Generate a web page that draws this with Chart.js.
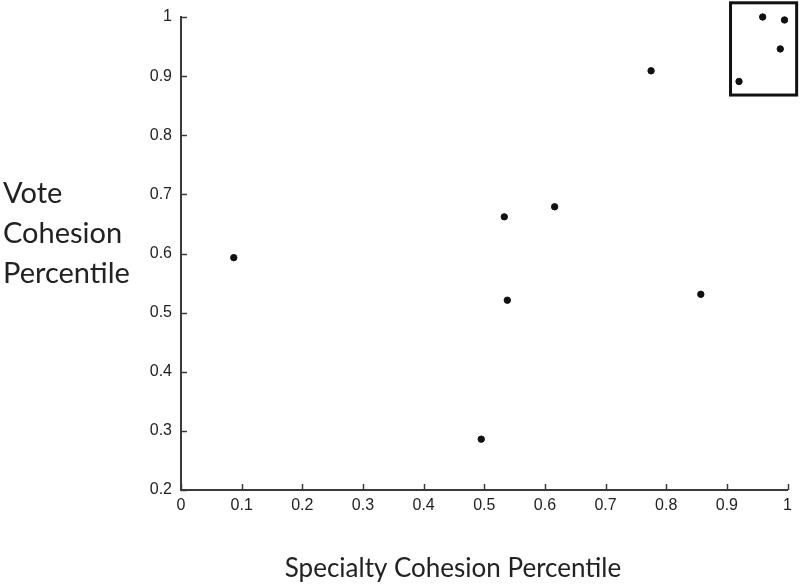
<!DOCTYPE html>
<html>
<head>
<meta charset="utf-8">
<script src="https://cdn.jsdelivr.net/npm/chart.js@4"></script>
<style>
  html, body { margin: 0; padding: 0; background: #fff; }
  #wrap { width: 800px; height: 584px; position: relative; }
</style>
</head>
<body>
<div id="wrap"><canvas id="scatterChart"></canvas></div>
<script>
// Data
const specialtyCohesion = [0.087, 0.533, 0.538, 0.616, 0.495, 0.775, 0.857, 0.959, 0.995, 0.988, 0.920];
const voteCohesion      = [0.593, 0.662, 0.521, 0.679, 0.286, 0.909, 0.531, 1.000, 0.995, 0.946, 0.891];
const xTicks = [0, 0.1, 0.2, 0.3, 0.4, 0.5, 0.6, 0.7, 0.8, 0.9, 1];
const yTicks = [0.2, 0.3, 0.4, 0.5, 0.6, 0.7, 0.8, 0.9, 1];
const xTitle = "Specialty Cohesion Percentile";
const yTitleLines = ["Vote", "Cohesion", "Percentile"];
// highlighted group (data units)
const boxX = [0.906, 1.015];
const boxY = [0.868, 1.024];

const points = specialtyCohesion.map((x, i) => ({ x: x, y: voteCohesion[i] }));
const fmt = v => String(Number(v.toFixed(1)));
const axisColor = "#3a3a3a";

// inward tick marks, titles and the highlight box
const decorations = {
    id: "decorations",
    afterDraw(chart) {
        const ctx = chart.ctx;
        const xs = chart.scales.x, ys = chart.scales.y;
        const area = chart.chartArea;
        ctx.save();
        ctx.strokeStyle = axisColor;
        ctx.lineWidth = 1.5;
        xTicks.forEach(t => {
            const px = Math.round(xs.getPixelForValue(t)) + 0.5;
            ctx.beginPath();
            ctx.moveTo(px, area.bottom);
            ctx.lineTo(px, area.bottom - 6);
            ctx.stroke();
        });
        yTicks.forEach(t => {
            const py = Math.round(ys.getPixelForValue(t)) + 0.5;
            ctx.beginPath();
            ctx.moveTo(area.left, py);
            ctx.lineTo(area.left + 6, py);
            ctx.stroke();
        });

        // highlight box
        const x0 = xs.getPixelForValue(boxX[0]), x1 = xs.getPixelForValue(boxX[1]);
        const y0 = ys.getPixelForValue(boxY[1]), y1 = ys.getPixelForValue(boxY[0]);
        ctx.strokeStyle = "#111";
        ctx.lineWidth = 3;
        ctx.strokeRect(x0, y0, x1 - x0, y1 - y0);

        // titles
        ctx.fillStyle = "#222";
        ctx.textBaseline = "alphabetic";
        ctx.font = "29px Lato";
        ctx.textAlign = "left";
        yTitleLines.forEach((line, i) => ctx.fillText(line, 3, 203 + i * 40));
        ctx.font = "26px Lato";
        ctx.textAlign = "center";
        ctx.fillText(xTitle, 453, 577);
        ctx.restore();
    }
};

new Chart(document.getElementById("scatterChart"), {
    type: "scatter",
    data: {
        datasets: [{
            data: points,
            backgroundColor: "#111",
            borderColor: "#111",
            pointRadius: 3.2,
            pointHoverRadius: 3.2,
            clip: false
        }]
    },
    options: {
        responsive: true,
        maintainAspectRatio: false,
        animation: false,
        layout: { padding: { top: 16, right: 11, left: 0, bottom: 0 } },
        plugins: { legend: { display: false }, tooltip: { enabled: false } },
        scales: {
            x: {
                type: "linear",
                min: 0, max: 1,
                afterBuildTicks: s => { s.ticks = xTicks.map(v => ({ value: v })); },
                afterFit: s => { s.height = 94; },
                grid: { display: true, drawOnChartArea: false, drawTicks: false },
                border: { display: true, color: axisColor, width: 2 },
                ticks: { padding: 8, color: "#222", font: { family: "Liberation Sans", size: 16, lineHeight: 1 }, callback: v => fmt(v), maxRotation: 0, autoSkip: false }
            },
            y: {
                type: "linear",
                min: 0.2, max: 1,
                afterBuildTicks: s => { s.ticks = yTicks.map(v => ({ value: v })); },
                afterFit: s => { s.width = 181; },
                grid: { display: true, drawOnChartArea: false, drawTicks: false },
                border: { display: true, color: axisColor, width: 2 },
                ticks: { padding: 9, color: "#222", font: { family: "Liberation Sans", size: 16, lineHeight: 1 }, callback: v => fmt(v), autoSkip: false }
            }
        }
    },
    plugins: [decorations]
});
</script>
</body>
</html>
